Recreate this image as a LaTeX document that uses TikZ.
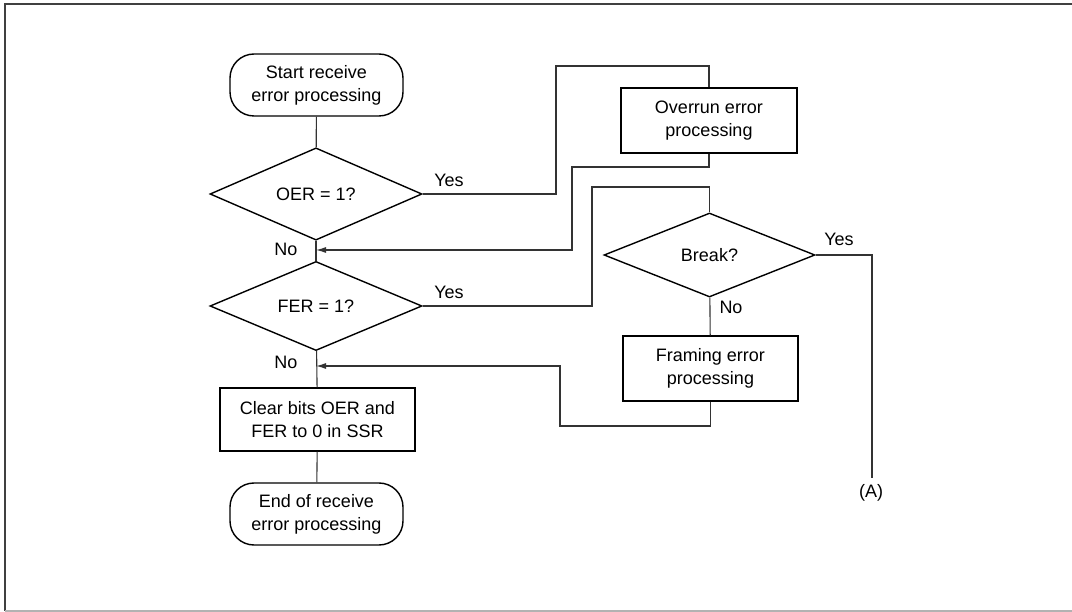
\documentclass[tikz,border=0pt]{standalone}
\usepackage{fontspec}
\setmainfont{Liberation Sans}
\usetikzlibrary{shapes.geometric,arrows.meta}
\begin{document}
\begin{tikzpicture}[x=1pt,y=-1pt,
 font=\fontsize{18}{23}\selectfont,
 shapeline/.style={draw=black,line width=1.4pt},
 term/.style={shapeline,rounded corners=24pt,minimum width=173pt,minimum height=62pt,align=center,inner sep=0pt},
 proc/.style={shapeline,minimum width=176pt,minimum height=65pt,align=center,inner sep=0pt},
 dec/.style={shapeline,diamond,minimum width=212pt,minimum height=84pt,inner sep=0pt},
 conn/.style={draw=black!80,line width=1.1pt},
 arr/.style={conn,-{Latex[length=10pt,width=6pt]}},
 lbl/.style={inner sep=0pt}]
\useasboundingbox (0,0) rectangle (1072,612);
% frame
\coordinate (ftl) at (5,4);
\coordinate (ftr) at (1072,4);
\coordinate (fbl) at (5,611);
\coordinate (fbr) at (1072,611);
\draw[line width=2pt,black!75] (ftr) -- (ftl) -- (fbl);
\draw[line width=1.5pt,black!30] (fbl) -- (fbr);
% nodes
\node[term] (start) at (316.5,85) {Start receive\\error processing};
\node[dec] (oer) at (316,194) {OER = 1?};
\node[dec] (fer) at (316,306) {FER = 1?};
\node[proc,minimum width=195pt,minimum height=63pt] (clear) at (317.5,419.5) {Clear bits OER and\\FER to 0 in SSR};
\node[term] (end) at (316.5,514) {End of receive\\error processing};
\node[proc] (over) at (709,120.5) {Overrun error\\processing};
\node[dec,minimum width=211pt] (brk) at (709.5,255) {Break?};
\node[proc,minimum width=175pt] (frame) at (710.5,368.5) {Framing error\\processing};
% labels
\node[lbl] (y1) at (449,180) {Yes};
\node[lbl] (y2) at (449,292) {Yes};
\node[lbl] (y3) at (839,239) {Yes};
\node[lbl] (n1) at (286,249) {No};
\node[lbl] (n2) at (286,362) {No};
\node[lbl] (n3) at (731,307) {No};
\node[lbl] (A) at (871,493) {(A)};
% coordinates
\coordinate (c1) at (556,66);
\coordinate (c2) at (572,167);
\coordinate (m1) at (316,250);
\coordinate (c3) at (592,187);
\coordinate (c5) at (560,426);
\coordinate (m2) at (316,366);
\coordinate (aend) at (872,478);
% connectors
\draw[conn] (start) -- (oer);
\draw[conn] (oer) -- (fer);
\draw[conn] (fer) -- (clear);
\draw[conn] (clear) -- (end);
\draw[conn] (oer.east) -| (c1) -| (over.north);
\draw[arr] (over.south) |- (c2) |- (m1);
\draw[conn] (fer.east) -| (c3) -| (brk.north);
\draw[conn] (brk.east) -| (aend);
\draw[conn] (brk) -- (frame);
\draw[arr] (frame.south) |- (c5) |- (m2);
\end{tikzpicture}
\end{document}
